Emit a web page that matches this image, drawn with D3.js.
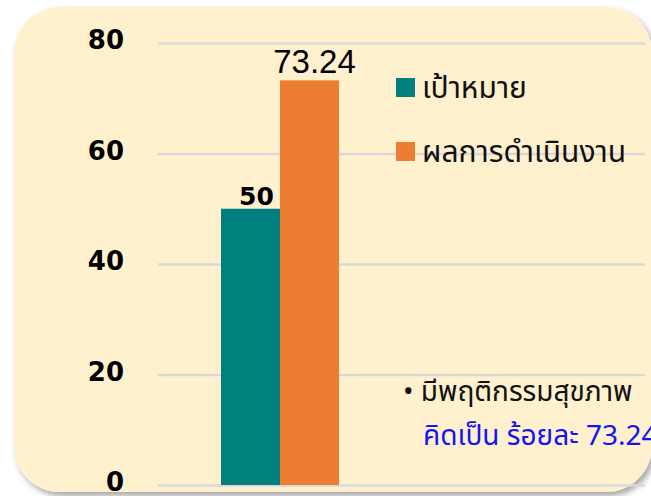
<!DOCTYPE html>
<html><head><meta charset="utf-8">
<script src="https://cdn.jsdelivr.net/npm/d3@7"></script>
<style>
html,body{margin:0;padding:0;background:#fff;overflow:hidden}
</style></head>
<body>
<script>
const categories = [""];
const seriesNames = ["เป้าหมาย", "ผลการดำเนินงาน"];
const seriesValues = [50, 73.24];
const seriesLabels = ["50", "73.24"];
const seriesColors = ["#007F7F", "#ED7D31"];
const yTicks = [0, 20, 40, 60, 80];
const noteLine1 = "• มีพฤติกรรมสุขภาพ";
const noteLine2 = "คิดเป็น ร้อยละ 73.24";

const W = 651, H = 496;
const svg = d3.select("body").append("svg").attr("width", W).attr("height", H);
const defs = svg.append("defs");
const f = defs.append("filter").attr("id","sh").attr("x","-10%").attr("y","-10%").attr("width","130%").attr("height","130%");
f.append("feDropShadow").attr("dx",3).attr("dy",4).attr("stdDeviation",3).attr("flood-color","#000").attr("flood-opacity",0.35);

svg.append("rect").attr("x",14).attr("y",7).attr("width",638).attr("height",485)
  .attr("rx",46).attr("ry",46).attr("fill","#FFF1CE").attr("filter","url(#sh)");

const plotL = 158, plotR = 645, plotT = 43, plotB = 485;
const y = d3.scaleLinear().domain([0,80]).range([plotB, plotT]);
const x0 = d3.scaleBand().domain(categories).range([plotL, 402]).paddingInner(0).paddingOuter(0.534);
const x1 = d3.scaleBand().domain(seriesNames).range([0, x0.bandwidth()]).padding(0);

// gridlines
const grid = svg.append("g").attr("transform",`translate(${plotL},0)`)
  .call(d3.axisRight(y).tickValues(yTicks).tickSize(plotR - plotL).tickFormat(""));
grid.select(".domain").remove();
grid.selectAll("line").attr("stroke","#D9D9D9").attr("stroke-width",2.5);

// y labels
const yAxis = svg.append("g").attr("transform",`translate(124,0)`)
  .call(d3.axisLeft(y).tickValues(yTicks).tickSize(0).tickPadding(0));
yAxis.select(".domain").remove();
yAxis.selectAll("text").attr("font-family","DejaVu Sans").attr("font-weight","bold")
  .attr("font-size",26).attr("fill","#000").attr("dy","0.22em");

// bars
const g = svg.append("g");
const data = seriesNames.map((s,i)=>({cat:categories[0], s, v:seriesValues[i], lab:seriesLabels[i], c:seriesColors[i]}));
g.selectAll("rect.bar").data(data).join("rect").attr("class","bar")
  .attr("x", d=>x0(d.cat)+x1(d.s)).attr("width", x1.bandwidth())
  .attr("y", d=>y(d.v)).attr("height", d=>y(0)-y(d.v)).attr("fill", d=>d.c);

// labels
g.append("text").attr("x", x0(categories[0])+x1(seriesNames[0])+x1.bandwidth()/2+6)
  .attr("y", y(seriesValues[0])-4).attr("text-anchor","middle")
  .attr("font-family","DejaVu Sans").attr("font-weight","bold").attr("font-size",25)
  .text(seriesLabels[0]);
g.append("text").attr("x", x0(categories[0])+x1(seriesNames[1])+x1.bandwidth()/2+5)
  .attr("y", y(seriesValues[1])-7).attr("text-anchor","middle")
  .attr("font-family","Liberation Sans").attr("font-size",33)
  .text(seriesLabels[1]);

const thai = "Noto Sans Thai, Noto Sans Thai UI, Loma, Garuda, sans-serif";
// legend
const lg = svg.append("g");
seriesNames.forEach((s,i)=>{
  const yy = 78 + i*64;
  lg.append("rect").attr("x",396).attr("y",yy).attr("width",19).attr("height",19).attr("fill",seriesColors[i]);
  lg.append("text").attr("x",422).attr("y",yy+20).attr("font-family",thai)
    .attr("font-size",30).attr("fill","#111").text(s);
});

// note
svg.append("text").attr("x",403).attr("y",401).attr("font-family",thai)
  .attr("font-size",28).attr("fill","#111").text(noteLine1);
svg.append("text").attr("x",423).attr("y",445).attr("font-family",thai)
  .attr("font-size",28).attr("fill","#1414F5").text(noteLine2);
</script>
</body></html>
